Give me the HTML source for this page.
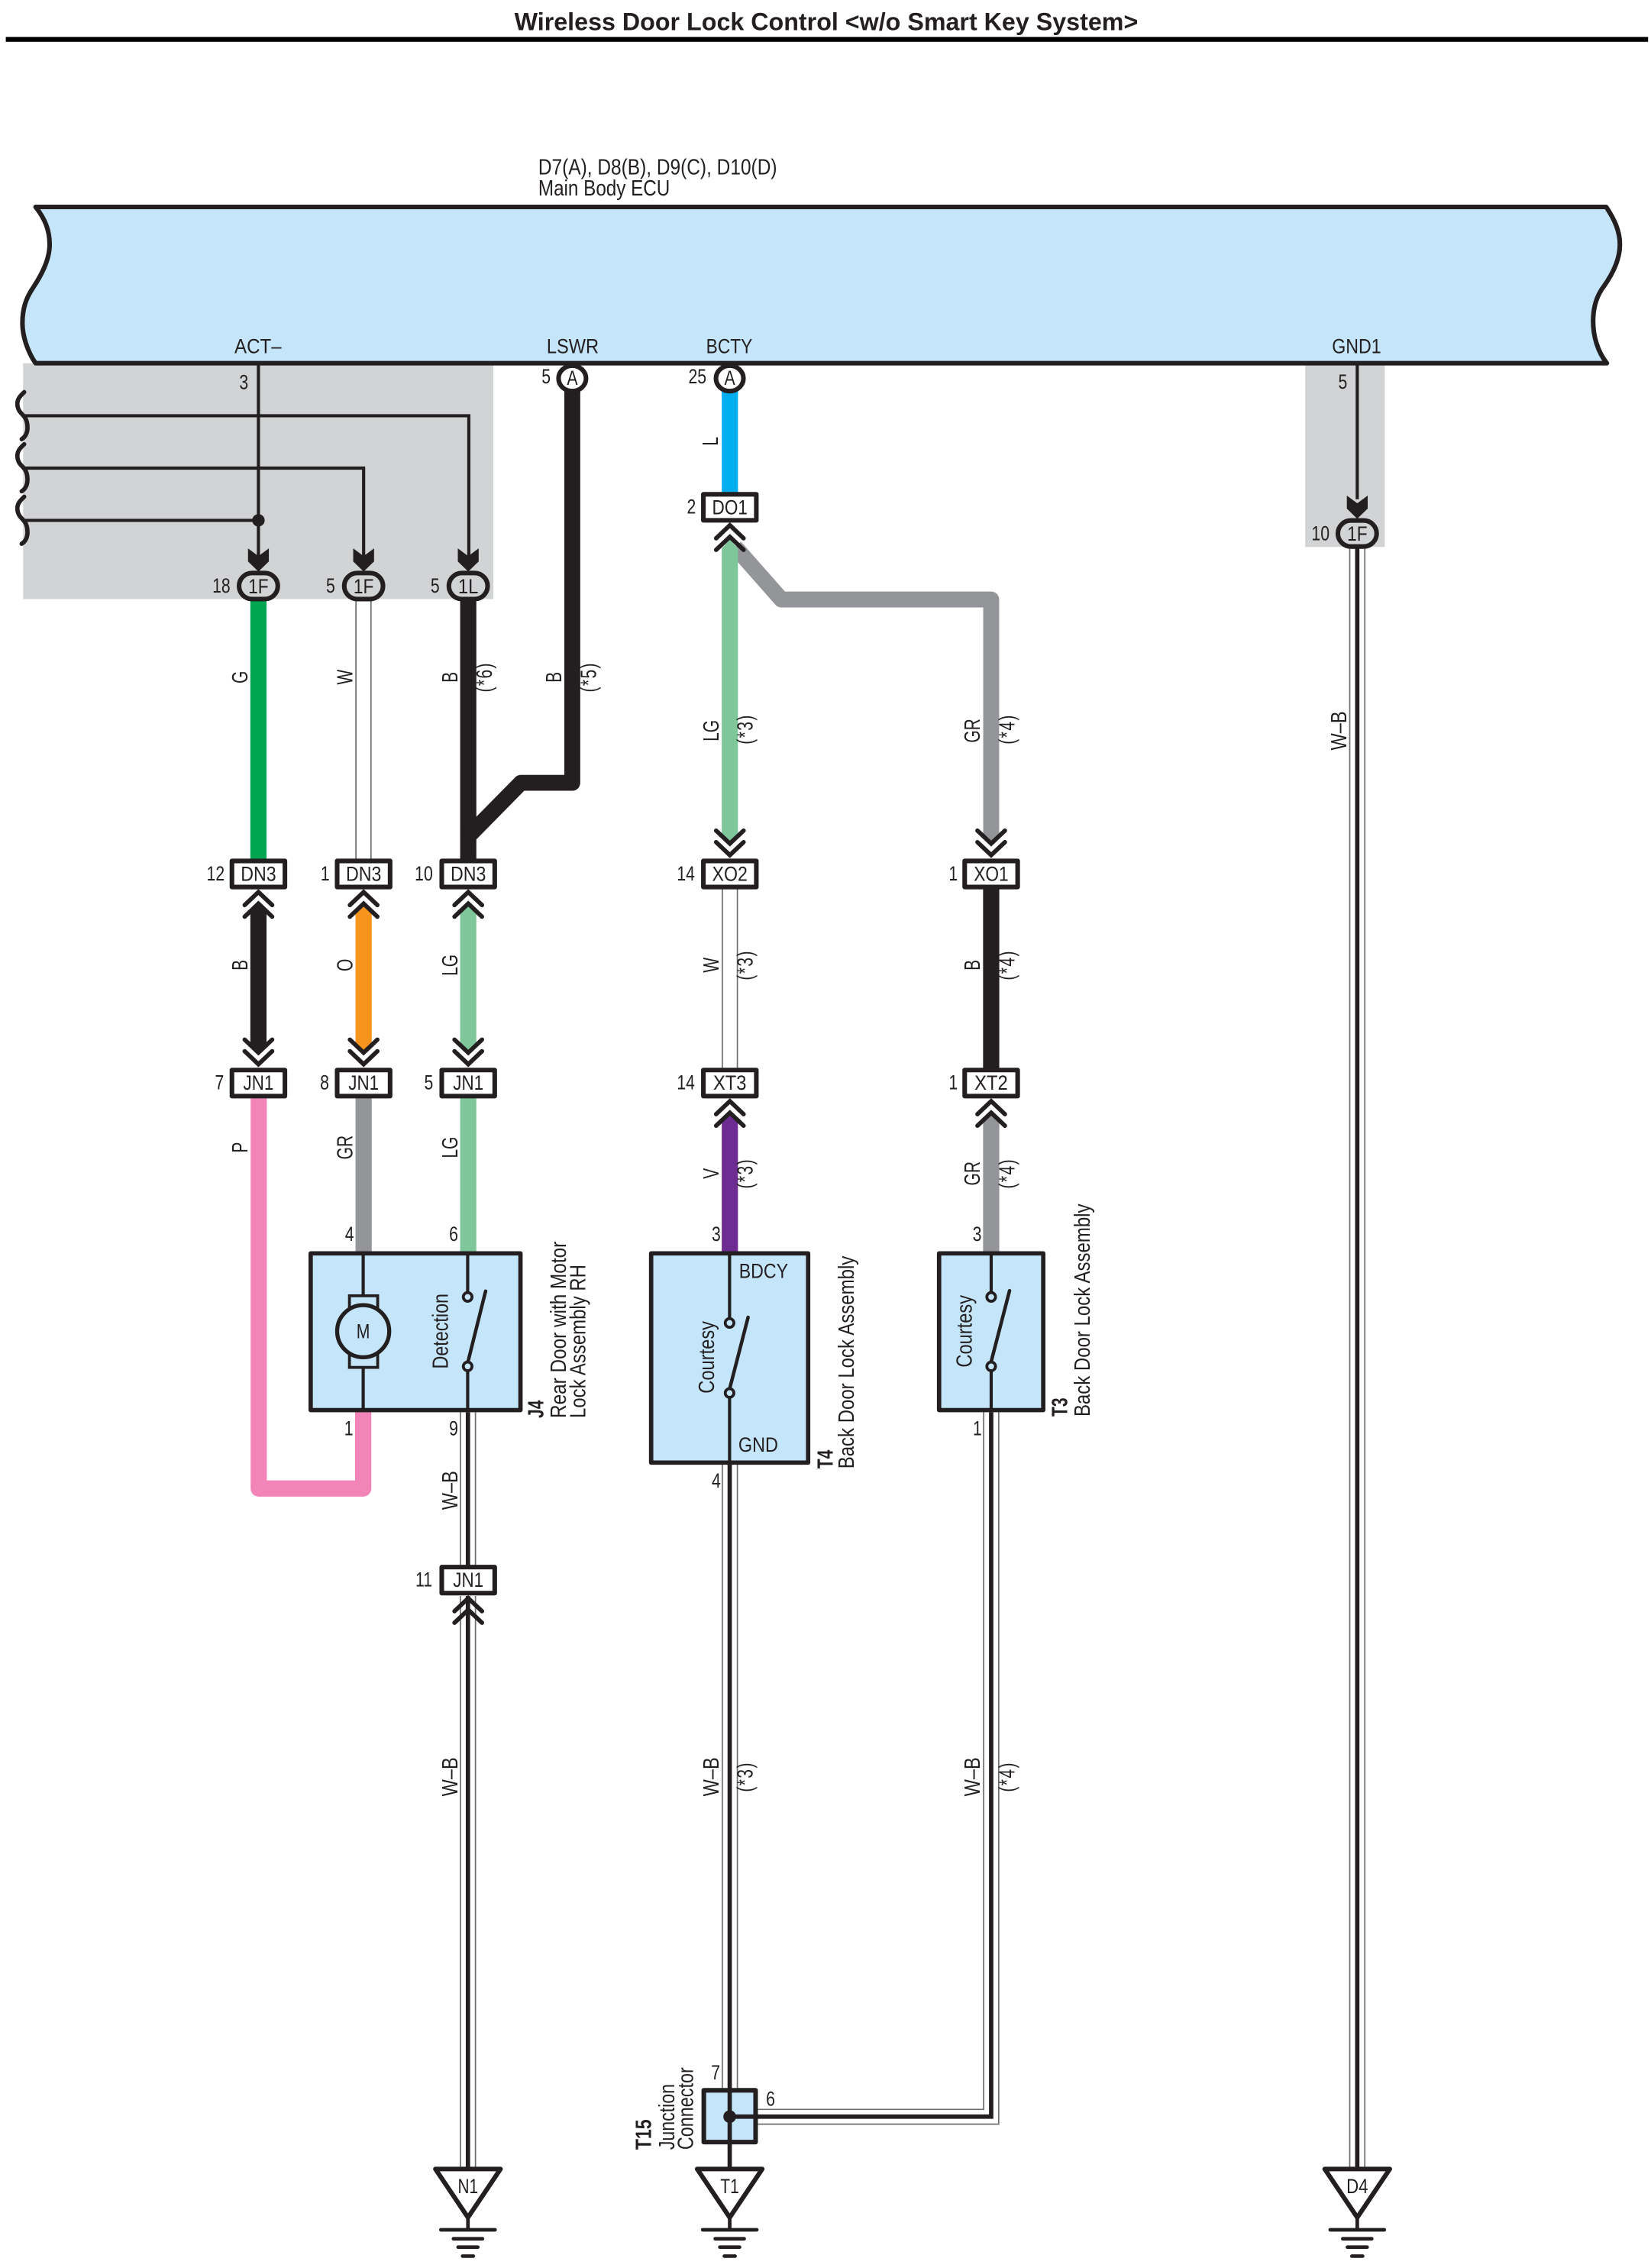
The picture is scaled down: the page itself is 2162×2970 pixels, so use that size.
<!DOCTYPE html>
<html><head><meta charset="utf-8"><title>Wireless Door Lock Control</title>
<style>
html,body{margin:0;padding:0;background:#fff}
svg{display:block}
text{font-family:"Liberation Sans",Arial,sans-serif;font-size:14px;fill:#231f20;text-anchor:middle}
g>text{font-size:15px}
.n{transform-box:fill-box;transform-origin:center;transform:scaleX(.8)}
g>text.n{transform:scaleX(.74)}
g>text.wb{transform:scaleX(.83)}
.s{letter-spacing:1px}
.bl{font-weight:bold}
.st{text-anchor:start}
.thin{fill:none;stroke:#6d6e71;stroke-width:.9}
.c{fill:none;stroke:#231f20;stroke-width:3}
.w{fill:none;stroke:#231f20;stroke-width:2.2}
.wv{fill:none;stroke:#231f20;stroke-width:3;stroke-linecap:round}
.ch{fill:none;stroke:#231f20;stroke-width:3;stroke-linecap:round}
.box{fill:#fff;stroke:#231f20;stroke-width:3.2;stroke-linejoin:round}
.ov{fill:#d1d3d4;stroke:#231f20;stroke-width:3.2}
.comp{fill:#c5e6fa;stroke:#231f20;stroke-width:3;stroke-linejoin:round}
.ct{fill:#c5e6fa;stroke:#231f20;stroke-width:2}
.gnd{stroke:#231f20;stroke-width:2.5;stroke-linecap:round;fill:none}
</style></head>
<body>
<svg xmlns="http://www.w3.org/2000/svg" width="2162" height="2970" viewBox="0 0 1141 1567.4">
<defs>
<path id="up1" class="ch" d="M-9.5,11 L0,2 L9.5,11"/>
<path id="dn1" class="ch" d="M-9.5,-11 L0,-2 L9.5,-11"/>
<path id="ar" fill="#231f20" d="M-7.2,-16 L0,-10.7 L7.2,-16 L7.2,-7 L0,0 L-7.2,-7Z"/>
<rect id="bx" class="box" x="-18.3" y="-9" width="36.6" height="18"/>
<rect id="ovl" class="ov" x="-13.4" y="-9" width="26.8" height="18" rx="9" ry="9"/>
<path id="gd" class="gnd" d="M0,-8 V8 M-18.7,8 H18.7 M-10,14.2 H10 M-6.8,20 H6.8 M-3.7,26.2 H3.7"/>
<path id="tri" fill="#fff" stroke="#231f20" stroke-width="3.2" stroke-linejoin="round" d="M-22.5,0 H22.5 L0,33.5Z"/>
<path id="wave" class="wv" d="M16.7,271 C13.5,274 12,276 12,279 C12,283 14,285 16,287 C18,289 19,292 19,295.5 C19,299 17.5,302 15,303.5"/>
</defs>

<!-- title -->
<text class="bl" x="571" y="20.8" style="font-size:17px" textLength="431" lengthAdjust="spacingAndGlyphs">Wireless Door Lock Control &lt;w/o Smart Key System&gt;</text>
<rect x="4" y="25.5" width="1135" height="3.4" fill="#000"/>

<!-- gray regions -->
<rect x="16" y="251" width="325" height="163" fill="#d1d3d4"/>
<rect x="902" y="251" width="55" height="127" fill="#d1d3d4"/>

<!-- ECU -->
<text class="st" x="372" y="120.5" style="font-size:15px" textLength="165" lengthAdjust="spacingAndGlyphs">D7(A), D8(B), D9(C), D10(D)</text>
<text class="st" x="372" y="135" style="font-size:15px" textLength="91" lengthAdjust="spacingAndGlyphs">Main Body ECU</text>
<path d="M24.6,143 H1110 C1116,152 1119.5,160 1119.5,169 C1119.5,180 1114,190 1108.3,198 C1103,205 1101,213 1101,222 C1101,232 1104,243 1110.5,251 H24.6 C19,243 15.5,232 15.5,223.4 C15.5,213 18,206 22.9,198.8 C28,191 34.3,180 34.3,169 C34.3,159 31,151 24.6,143Z" fill="#c5e6fa" stroke="#231f20" stroke-width="3.2" stroke-linejoin="round"/>
<text x="178.3" y="244" textLength="32.5" lengthAdjust="spacingAndGlyphs">ACT–</text>
<text x="395.8" y="244" textLength="36" lengthAdjust="spacingAndGlyphs">LSWR</text>
<text x="504" y="244" textLength="32" lengthAdjust="spacingAndGlyphs">BCTY</text>
<text x="937.5" y="244" textLength="34" lengthAdjust="spacingAndGlyphs">GND1</text>

<!-- gray-region wires -->
<path class="w" d="M178.6,252 V385"/>
<path class="w" d="M16,287.3 H324 V385"/>
<path class="w" d="M16,323.5 H251.3 V385"/>
<path class="w" d="M16,359.6 H178.6"/>
<circle cx="178.6" cy="359.6" r="4.3" fill="#231f20"/>
<use href="#wave"/>
<use href="#wave" y="36"/>
<use href="#wave" y="72.3"/>
<path class="w" d="M938,252 V345"/>
<use href="#ar" x="178.6" y="395"/>
<use href="#ar" x="251.3" y="395"/>
<use href="#ar" x="323.6" y="395"/>
<use href="#ar" x="938" y="358.5"/>

<!-- coloured wires, upper -->
<rect x="173" y="414" width="11.2" height="181" fill="#00a651"/>
<path class="thin" d="M246,415 V594 M256.4,415 V594"/>
<rect x="318" y="414" width="11.2" height="181" fill="#231f20"/>
<path d="M395.5,270 V541 H360 L323.6,578" fill="none" stroke="#231f20" stroke-width="11" stroke-linejoin="round"/>
<rect x="498.8" y="270" width="11.2" height="72" fill="#00aeef"/>
<path d="M508,378 L540,414.3 H685 V578" fill="none" stroke="#939598" stroke-width="11" stroke-linejoin="round"/>
<polygon points="679.5,577 685,583.5 690.5,577" fill="#939598"/>
<polygon points="498.8,379 504.4,373 510,379 510,577 504.4,583.5 498.8,577" fill="#7fc79b"/>

<!-- middle wires -->
<polygon points="173,631.5 178.6,626 184.2,631.5 184.2,721.5 178.6,727 173,721.5" fill="#231f20"/>
<polygon points="245.7,631.5 251.3,626 256.9,631.5 256.9,721.5 251.3,727 245.7,721.5" fill="#f7941d"/>
<polygon points="318,631.5 323.6,626 329.2,631.5 329.2,721.5 323.6,727 318,721.5" fill="#7fc79b"/>
<path class="thin" d="M499.2,614 V738 M509.6,614 V738"/>
<rect x="679.4" y="613" width="11.2" height="126" fill="#231f20"/>

<!-- lower wires -->
<path d="M178.8,759 V1028.7 H251 V975" fill="none" stroke="#f384b8" stroke-width="11.2" stroke-linejoin="round"/>
<rect x="245.7" y="758" width="11.2" height="108" fill="#939598"/>
<rect x="318" y="758" width="11.2" height="108" fill="#7fc79b"/>
<polygon points="498.8,776 504.4,770 510,776 510,866 498.8,866" fill="#6c2c91"/>
<polygon points="679.4,776 685,770 690.6,776 690.6,866 679.4,866" fill="#939598"/>

<!-- W-B double wires -->
<path class="thin" d="M318.2,976 V1082 M328.6,976 V1082"/><path class="c" d="M323.4,976 V1082"/>
<path class="thin" d="M318.2,1103 V1499 M328.6,1103 V1499"/><path class="c" d="M323.4,1103 V1499"/>
<path class="thin" d="M499.2,1012 V1444 M509.6,1012 V1444"/><path class="c" d="M504.3,1012 V1499"/>
<path class="thin" d="M679.8,976 V1457.8 H523 M690.2,976 V1468 H523"/>
<path class="c" d="M685,976 V1462.8 H504"/>
<path class="thin" d="M932.8,379 V1499 M943.2,379 V1499"/><path class="c" d="M938,379 V1499"/>

<!-- connectors: ovals -->
<use href="#ovl" x="178.6" y="405"/>
<use href="#ovl" x="251.3" y="405"/>
<use href="#ovl" x="323.6" y="405"/>
<use href="#ovl" x="938" y="368.7"/>
<text x="178.6" y="410" textLength="14" lengthAdjust="spacingAndGlyphs">1F</text>
<text x="251.3" y="410" textLength="14" lengthAdjust="spacingAndGlyphs">1F</text>
<text x="323.6" y="410" textLength="14" lengthAdjust="spacingAndGlyphs">1L</text>
<text x="938" y="373.6" textLength="14" lengthAdjust="spacingAndGlyphs">1F</text>

<!-- connectors: circles -->
<ellipse cx="395.5" cy="261.5" rx="9.5" ry="8.8" fill="#fff" stroke="#231f20" stroke-width="3.2"/>
<ellipse cx="504.3" cy="261.5" rx="9.5" ry="8.8" fill="#fff" stroke="#231f20" stroke-width="3.2"/>
<text class="n" x="395.5" y="266">A</text>
<text class="n" x="504.3" y="266">A</text>

<!-- connectors: boxes -->
<use href="#bx" x="504.4" y="350.6"/>
<use href="#bx" x="178.6" y="604"/><use href="#bx" x="251.3" y="604"/><use href="#bx" x="323.6" y="604"/>
<use href="#bx" x="504.4" y="604"/><use href="#bx" x="685" y="604"/>
<use href="#bx" x="178.6" y="748.5"/><use href="#bx" x="251.3" y="748.5"/><use href="#bx" x="323.6" y="748.5"/>
<use href="#bx" x="504.4" y="748.5"/><use href="#bx" x="685" y="748.5"/>
<use href="#bx" x="323.6" y="1092"/>

<text x="504.4" y="355.5" textLength="24.5" lengthAdjust="spacingAndGlyphs">DO1</text>
<text x="178.6" y="608.7" textLength="24.5" lengthAdjust="spacingAndGlyphs">DN3</text>
<text x="251.3" y="608.7" textLength="24.5" lengthAdjust="spacingAndGlyphs">DN3</text>
<text x="323.6" y="608.7" textLength="24.5" lengthAdjust="spacingAndGlyphs">DN3</text>
<text x="504.4" y="608.7" textLength="24.5" lengthAdjust="spacingAndGlyphs">XO2</text>
<text x="685" y="608.7" textLength="24" lengthAdjust="spacingAndGlyphs">XO1</text>
<text x="178.6" y="753" textLength="21" lengthAdjust="spacingAndGlyphs">JN1</text>
<text x="251.3" y="753" textLength="21" lengthAdjust="spacingAndGlyphs">JN1</text>
<text x="323.6" y="753" textLength="21" lengthAdjust="spacingAndGlyphs">JN1</text>
<text x="504.4" y="753" textLength="23" lengthAdjust="spacingAndGlyphs">XT3</text>
<text x="685" y="753" textLength="23" lengthAdjust="spacingAndGlyphs">XT2</text>
<text x="323.6" y="1096.7" textLength="21" lengthAdjust="spacingAndGlyphs">JN1</text>

<!-- chevrons -->
<use href="#up1" x="504.4" y="361"/><use href="#up1" x="504.4" y="369"/>
<use href="#dn1" x="504.4" y="593"/><use href="#dn1" x="504.4" y="585"/>
<use href="#dn1" x="685" y="593"/><use href="#dn1" x="685" y="585"/>
<use href="#up1" x="178.6" y="614.5"/><use href="#up1" x="178.6" y="622.5"/>
<use href="#up1" x="251.3" y="614.5"/><use href="#up1" x="251.3" y="622.5"/>
<use href="#up1" x="323.6" y="614.5"/><use href="#up1" x="323.6" y="622.5"/>
<use href="#dn1" x="178.6" y="737.5"/><use href="#dn1" x="178.6" y="729.5"/>
<use href="#dn1" x="251.3" y="737.5"/><use href="#dn1" x="251.3" y="729.5"/>
<use href="#dn1" x="323.6" y="737.5"/><use href="#dn1" x="323.6" y="729.5"/>
<use href="#up1" x="504.4" y="759"/><use href="#up1" x="504.4" y="767"/>
<use href="#up1" x="685" y="759"/><use href="#up1" x="685" y="767"/>
<use href="#up1" x="323.6" y="1102.5"/><use href="#up1" x="323.6" y="1110.5"/>

<!-- J4 -->
<rect class="comp" x="214.7" y="866.2" width="145" height="108.3"/>
<path class="w" d="M251,867 V897 M251,944 V974"/>
<rect x="241.5" y="895.5" width="19.5" height="10" class="ct"/>
<rect x="241.5" y="935" width="19.5" height="10" class="ct"/>
<circle cx="251" cy="920" r="18" fill="#c5e6fa" stroke="#231f20" stroke-width="2.8"/>
<text class="n" x="251" y="925">M</text>
<path class="w" d="M323.2,867 V893 M323.2,947 V974"/>
<path d="M323.2,942 L335.6,892.3" stroke="#231f20" stroke-width="2.4" stroke-linecap="round"/>
<circle cx="323.2" cy="896.3" r="3" class="ct"/>
<circle cx="323.2" cy="944.3" r="3" class="ct"/>
<g transform="translate(309.5,920) rotate(-90)"><text textLength="52" lengthAdjust="spacingAndGlyphs">Detection</text></g>

<!-- T4 -->
<rect class="comp" x="450" y="866.2" width="108.5" height="144.6"/>
<path class="w" d="M504.2,867 V911 M504.2,966 V1011"/>
<path d="M504.2,960 L517,910.4" stroke="#231f20" stroke-width="2.4" stroke-linecap="round"/>
<circle cx="504.2" cy="914.3" r="3" class="ct"/>
<circle cx="504.2" cy="962.7" r="3" class="ct"/>
<text x="527.7" y="883.2" textLength="34" lengthAdjust="spacingAndGlyphs">BDCY</text>
<text x="524" y="1003.2" textLength="27.5" lengthAdjust="spacingAndGlyphs">GND</text>
<g transform="translate(493.5,938) rotate(-90)"><text textLength="50" lengthAdjust="spacingAndGlyphs">Courtesy</text></g>

<!-- T3 -->
<rect class="comp" x="649" y="866.2" width="72" height="108.3"/>
<path class="w" d="M685,867 V893 M685,947 V975"/>
<path d="M685,941 L697.7,892" stroke="#231f20" stroke-width="2.4" stroke-linecap="round"/>
<circle cx="685" cy="896.3" r="3" class="ct"/>
<circle cx="685" cy="944.3" r="3" class="ct"/>
<g transform="translate(671.5,920) rotate(-90)"><text textLength="50" lengthAdjust="spacingAndGlyphs">Courtesy</text></g>

<!-- T15 -->
<rect x="486.4" y="1444.6" width="35.8" height="35.8" fill="#c5e6fa" stroke="#231f20" stroke-width="3.2" stroke-linejoin="round"/>
<path class="c" stroke-width="2.4" d="M504.3,1444 V1481 M504.3,1462.8 H523"/>
<circle cx="504.3" cy="1462.8" r="4.4" fill="#231f20"/>

<!-- grounds -->
<use href="#gd" x="323.4" y="1533"/><use href="#tri" x="323.4" y="1499"/>
<use href="#gd" x="504.3" y="1533"/><use href="#tri" x="504.3" y="1499"/>
<use href="#gd" x="938" y="1533"/><use href="#tri" x="938" y="1499"/>
<text x="323.4" y="1515.7" textLength="14" lengthAdjust="spacingAndGlyphs">N1</text>
<text x="504.3" y="1515.7" textLength="13" lengthAdjust="spacingAndGlyphs">T1</text>
<text x="938" y="1515.7" textLength="15" lengthAdjust="spacingAndGlyphs">D4</text>

<!-- pin numbers -->
<text class="n" x="168.5" y="269">3</text>
<text class="n" x="377.4" y="265">5</text>
<text class="n" x="482" y="265">25</text>
<text class="n" x="477.8" y="355">2</text>
<text class="n" x="153" y="409.5">18</text>
<text class="n" x="228.5" y="409.5">5</text>
<text class="n" x="300.7" y="409.5">5</text>
<text class="n" x="928" y="268.5">5</text>
<text class="n" x="912.6" y="373.5">10</text>
<text class="n" x="149" y="608.5">12</text>
<text class="n" x="224.7" y="608.5">1</text>
<text class="n" x="292.9" y="608.5">10</text>
<text class="n" x="474" y="608.5">14</text>
<text class="n" x="658.8" y="608.5">1</text>
<text class="n" x="151.7" y="752.8">7</text>
<text class="n" x="224.3" y="752.8">8</text>
<text class="n" x="296.3" y="752.8">5</text>
<text class="n" x="474" y="752.8">14</text>
<text class="n" x="658.8" y="752.8">1</text>
<text class="n" x="241.5" y="857.6">4</text>
<text class="n" x="313.5" y="857.6">6</text>
<text class="n" x="495" y="857.6">3</text>
<text class="n" x="675.3" y="857.6">3</text>
<text class="n" x="241" y="992">1</text>
<text class="n" x="313.5" y="992">9</text>
<text class="n" x="675.5" y="992">1</text>
<text class="n" x="495" y="1028">4</text>
<text class="n" x="292.9" y="1096.5">11</text>
<text class="n" x="494.6" y="1437">7</text>
<text class="n" x="532.5" y="1455.2">6</text>

<!-- rotated wire colour labels -->
<g transform="translate(171,468) rotate(-90)"><text class="n">G</text></g>
<g transform="translate(243.5,468) rotate(-90)"><text class="n">W</text></g>
<g transform="translate(316,468) rotate(-90)"><text class="n">B</text></g>
<g transform="translate(340,468) rotate(-90)"><text class="n s">(*6)</text></g>
<g transform="translate(388,468) rotate(-90)"><text class="n">B</text></g>
<g transform="translate(412,468) rotate(-90)"><text class="n s">(*5)</text></g>
<g transform="translate(496,305) rotate(-90)"><text class="n">L</text></g>
<g transform="translate(496.5,505) rotate(-90)"><text class="n">LG</text></g>
<g transform="translate(520,504) rotate(-90)"><text class="n s">(*3)</text></g>
<g transform="translate(677,505) rotate(-90)"><text class="n">GR</text></g>
<g transform="translate(701,504) rotate(-90)"><text class="n s">(*4)</text></g>
<g transform="translate(930.5,505) rotate(-90)"><text class="n wb">W–B</text></g>
<g transform="translate(171,667) rotate(-90)"><text class="n">B</text></g>
<g transform="translate(243.5,667) rotate(-90)"><text class="n">O</text></g>
<g transform="translate(316,667) rotate(-90)"><text class="n">LG</text></g>
<g transform="translate(496.5,667) rotate(-90)"><text class="n">W</text></g>
<g transform="translate(520,667) rotate(-90)"><text class="n s">(*3)</text></g>
<g transform="translate(677,667) rotate(-90)"><text class="n">B</text></g>
<g transform="translate(701,667) rotate(-90)"><text class="n s">(*4)</text></g>
<g transform="translate(171,793) rotate(-90)"><text class="n">P</text></g>
<g transform="translate(243.5,793) rotate(-90)"><text class="n">GR</text></g>
<g transform="translate(316,793) rotate(-90)"><text class="n">LG</text></g>
<g transform="translate(496.5,811) rotate(-90)"><text class="n">V</text></g>
<g transform="translate(520,811) rotate(-90)"><text class="n s">(*3)</text></g>
<g transform="translate(677,811) rotate(-90)"><text class="n">GR</text></g>
<g transform="translate(701,811) rotate(-90)"><text class="n s">(*4)</text></g>
<g transform="translate(316,1030) rotate(-90)"><text class="n wb">W–B</text></g>
<g transform="translate(316,1228) rotate(-90)"><text class="n wb">W–B</text></g>
<g transform="translate(496.5,1228) rotate(-90)"><text class="n wb">W–B</text></g>
<g transform="translate(520,1228) rotate(-90)"><text class="n s">(*3)</text></g>
<g transform="translate(677,1228) rotate(-90)"><text class="n wb">W–B</text></g>
<g transform="translate(701,1228) rotate(-90)"><text class="n s">(*4)</text></g>

<!-- component names -->
<g transform="translate(375.6,980) rotate(-90)"><text class="bl st" textLength="12.3" lengthAdjust="spacingAndGlyphs">J4</text></g>
<g transform="translate(391,980) rotate(-90)"><text class="st" textLength="122" lengthAdjust="spacingAndGlyphs">Rear Door with Motor</text></g>
<g transform="translate(404.6,980) rotate(-90)"><text class="st" textLength="106" lengthAdjust="spacingAndGlyphs">Lock Assembly RH</text></g>
<g transform="translate(575.5,1015) rotate(-90)"><text class="bl st" textLength="13" lengthAdjust="spacingAndGlyphs">T4</text></g>
<g transform="translate(590,1015) rotate(-90)"><text class="st" textLength="147" lengthAdjust="spacingAndGlyphs">Back Door Lock Assembly</text></g>
<g transform="translate(737.6,979) rotate(-90)"><text class="bl st" textLength="13" lengthAdjust="spacingAndGlyphs">T3</text></g>
<g transform="translate(753,979) rotate(-90)"><text class="st" textLength="147" lengthAdjust="spacingAndGlyphs">Back Door Lock Assembly</text></g>
<g transform="translate(450,1485.7) rotate(-90)"><text class="bl st" textLength="21" lengthAdjust="spacingAndGlyphs">T15</text></g>
<g transform="translate(466,1485.7) rotate(-90)"><text class="st" textLength="45.5" lengthAdjust="spacingAndGlyphs">Junction</text></g>
<g transform="translate(479,1485.7) rotate(-90)"><text class="st" textLength="57" lengthAdjust="spacingAndGlyphs">Connector</text></g>
</svg>
</body></html>
